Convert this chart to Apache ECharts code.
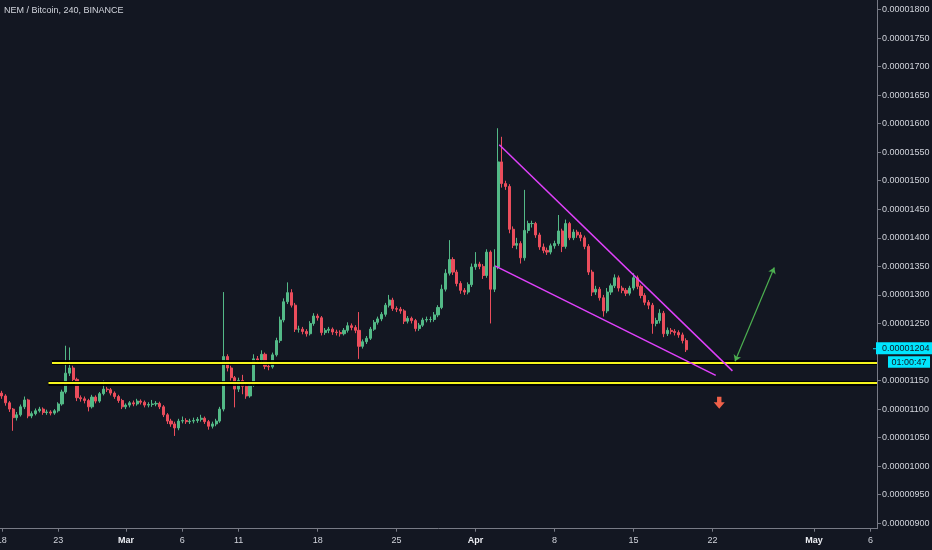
<!DOCTYPE html>
<html><head><meta charset="utf-8">
<script src="https://cdn.jsdelivr.net/npm/echarts@6/dist/echarts.min.js"></script>
<style>html,body{margin:0;padding:0;background:#131722;}#c{width:932px;height:550px;}</style>
</head><body><div id="c"></div>
<script>
// ---- data (prices in 1e-8 BTC units; x in days since Feb 18) ----
const chartTitle = 'NEM / Bitcoin, 240, BINANCE';
const firstOpen = 1128;
const candleStepDays = 1 / 3;
const closes = [
 1123,1111,1100,1085,1090,1104,1116,1088,1092,1097,1100,1094,1095,1093,1097,1109,1130,1163,1172,1152,
 1120,1118,1115,1104,1121,1114,1127,1135,1134,1128,1122,1115,1104,1107,1111,1109,1114,1112,1107,1108,
 1109,1110,1104,1090,1079,1074,1067,1079,1080,1078,1079,1080,1082,1084,1078,1070,1074,1079,1100,1192,
 1172,1155,1135,1150,1140,1123,1142,1188,1186,1196,1175,1174,1195,1220,1256,1288,1304,1282,1240,1240,
 1236,1232,1250,1263,1260,1234,1238,1240,1235,1234,1232,1238,1246,1243,1238,1210,1218,1224,1240,1252,
 1258,1266,1282,1291,1276,1275,1272,1254,1259,1255,1241,1247,1256,1257,1257,1265,1278,1310,1338,1362,
 1340,1320,1308,1305,1318,1349,1354,1350,1334,1375,1310,1349,1533,1495,1490,1415,1387,1390,1365,1413,
 1425,1425,1405,1384,1378,1375,1386,1390,1412,1385,1425,1400,1410,1405,1400,1385,1340,1305,1310,1295,
 1272,1305,1316,1330,1312,1308,1303,1312,1330,1315,1299,1287,1282,1250,1255,1268,1232,1238,1236,1234,
 1230,1220,1204
];
const highs = [
 1132,1126,1114,1102,1095,1108,1122,1118,1096,1101,1104,1103,1099,1098,1100,1112,1134,1211,1208,1176,
 1155,1124,1122,1118,1125,1124,1130,1150,1139,1137,1131,1125,1118,1110,1114,1115,1118,1117,1115,1112,
 1116,1114,1113,1107,1093,1083,1078,1083,1087,1084,1083,1085,1086,1090,1087,1081,1078,1083,1104,1305,
 1196,1176,1158,1155,1160,1144,1147,1196,1193,1203,1199,1180,1199,1225,1262,1294,1322,1310,1286,1246,
 1244,1240,1254,1268,1267,1263,1242,1244,1243,1239,1238,1242,1252,1250,1247,1270,1222,1228,1244,1256,
 1262,1270,1286,1300,1295,1280,1279,1275,1263,1262,1258,1251,1260,1262,1262,1270,1282,1318,1345,1396,
 1366,1344,1324,1312,1322,1355,1375,1358,1354,1380,1378,1380,1592,1577,1500,1494,1420,1400,1394,1484,
 1430,1430,1428,1409,1390,1383,1390,1395,1440,1416,1432,1428,1415,1414,1410,1404,1389,1344,1316,1314,
 1300,1312,1320,1336,1334,1316,1312,1316,1338,1334,1318,1303,1291,1286,1260,1275,1272,1243,1242,1240,
 1238,1234,1224
];
const lows = [
 1118,1106,1095,1062,1080,1087,1100,1084,1084,1089,1094,1090,1090,1089,1090,1094,1106,1127,1158,1148,
 1114,1113,1110,1096,1101,1110,1111,1124,1130,1124,1118,1111,1100,1100,1103,1105,1106,1108,1103,1103,
 1104,1105,1100,1086,1074,1069,1053,1063,1075,1074,1074,1075,1076,1078,1074,1064,1066,1070,1076,1096,
 1166,1150,1103,1130,1126,1118,1120,1139,1180,1182,1170,1168,1171,1192,1216,1252,1284,1278,1235,1234,
 1231,1227,1229,1246,1255,1229,1230,1233,1230,1229,1227,1229,1234,1238,1233,1188,1206,1214,1221,1237,
 1248,1254,1262,1278,1272,1270,1267,1249,1250,1250,1236,1237,1244,1252,1252,1253,1261,1275,1306,1334,
 1335,1315,1302,1300,1301,1314,1344,1345,1328,1330,1250,1305,1345,1488,1484,1408,1382,1380,1355,1360,
 1408,1418,1400,1379,1373,1370,1371,1381,1386,1375,1381,1396,1396,1400,1394,1380,1335,1298,1300,1290,
 1262,1268,1300,1312,1306,1303,1298,1299,1308,1310,1294,1282,1275,1232,1245,1250,1226,1228,1231,1229,
 1225,1215,1200
];
const priceTicks = [900,950,1000,1050,1100,1150,1200,1250,1300,1350,1400,1450,1500,1550,1600,1650,1700,1750,1800];
const dateTickDays = [0,5,11,16,21,28,35,42,49,56,63,72,77];
const dateTickLabels = ['18','23','Mar','6','11','18','25','Apr','8','15','22','May','6'];
const lastPrice = 1204;
const countdown = '01:00:47';
// annotations (data coordinates: [day, price])
const supportUpper = [[4.45, 1182], [77.585, 1182]];
const supportLower = [[4.14, 1146], [77.585, 1146]];
const wedgeUpper = [[44.1, 1563], [64.77, 1167]];
const wedgeLower = [[43.72, 1351], [63.29, 1159]];
const greenArrow = [[65.0, 1184], [68.48, 1348]];
const redArrowMark = [63.6, 1111];

// ---- chart ----
const FONT = "'Liberation Sans', Arial, sans-serif";
const FS = 9;
const AXIS = '#787b86';
const TXT = '#d1d4dc';
const fmtPrice = v => '0.0000' + String(Math.round(v)).padStart(4, '0');

const opens = [firstOpen].concat(closes.slice(0, -1));
const candleData = closes.map((c, i) => [i * candleStepDays, opens[i], c, lows[i], highs[i]]);

function seg(pts, style, syms, symSize) {
  return [
    { coord: pts[0], lineStyle: style, symbol: syms ? syms[0] : 'none', symbolSize: symSize || 0 },
    { coord: pts[1], symbol: syms ? syms[1] : 'none', symbolSize: symSize || 0 }
  ];
}
const outline = { color: '#000000', width: 5, type: 'solid', opacity: 0.9 };
const yellow = { color: '#f5f51d', width: 2.2, type: 'solid' };
const magenta = { color: '#e040fb', width: 1.5, type: 'solid' };
const green = { color: '#4caf50', width: 1.2, type: 'solid' };

const chart = echarts.init(document.getElementById('c'), null, { renderer: 'canvas' });
chart.setOption({
  backgroundColor: '#131722',
  animation: false,
  title: { text: chartTitle, left: 4, top: 6, padding: 0, textStyle: { color: TXT, fontSize: FS, fontWeight: 'normal', fontFamily: FONT } },
  grid: { left: 0, right: 55, top: 0, bottom: 21.3, containLabel: false, outerBoundsMode: 'none' },
  xAxis: {
    type: 'value', min: -0.16, max: 77.585,
    axisLine: { show: true, onZero: false, lineStyle: { color: AXIS, width: 1 } },
    axisTick: { show: true, length: 3, customValues: dateTickDays, lineStyle: { color: AXIS } },
    axisLabel: {
      customValues: dateTickDays, margin: 7, color: TXT, fontSize: FS, fontFamily: FONT,
      formatter: v => {
        const t = dateTickLabels[dateTickDays.indexOf(Math.round(v))] || '';
        return /[A-Za-z]/.test(t) ? '{m|' + t + '}' : t;
      },
      rich: { m: { fontWeight: 'bold', color: '#eceef3', fontSize: FS, fontFamily: FONT } }
    },
    splitLine: { show: false }
  },
  yAxis: {
    type: 'value', position: 'right', min: 890.5, max: 1816.6, scale: true,
    axisLine: { show: true, onZero: false, lineStyle: { color: AXIS, width: 1 } },
    axisTick: { show: true, length: 4, customValues: priceTicks, lineStyle: { color: AXIS } },
    axisLabel: { customValues: priceTicks, margin: 5, color: TXT, fontSize: FS, fontFamily: FONT, formatter: fmtPrice },
    splitLine: { show: false }
  },
  series: [
    {
      type: 'candlestick', data: candleData, encode: { x: 0, y: [1, 2, 3, 4] },
      barWidth: 2.6, clip: true, z: 2,
      itemStyle: { color: '#53b987', color0: '#eb4d5c', borderColor: '#53b987', borderColor0: '#eb4d5c', borderWidth: 1 }
    },
    {
      type: 'line', data: [], z: 5, silent: true,
      markLine: {
        silent: true, animation: false, label: { show: false }, symbol: ['none', 'none'],
        emphasis: { disabled: true },
        data: [
          seg(supportUpper, outline), seg(supportLower, outline),
          seg(supportUpper, yellow), seg(supportLower, yellow),
          seg(wedgeUpper, magenta), seg(wedgeLower, magenta),
          seg(greenArrow, green, ['arrow', 'arrow'], 6)
        ]
      },
      markPoint: {
        silent: true, animation: false,
        data: [{
          coord: redArrowMark, symbol: 'path://M3,0 L7,0 L7,5 L10,5 L5,11 L0,5 L3,5 Z',
          symbolSize: [11, 12], itemStyle: { color: '#f0614a' }, label: { show: false }
        }]
      }
    }
  ]
});

const py = chart.convertToPixel({ yAxisIndex: 0 }, lastPrice);
const axisX = chart.convertToPixel({ xAxisIndex: 0 }, 77.585);
chart.setOption({
  graphic: [
    { type: 'rect', shape: { x: axisX - 4, y: py - 1.5, width: 4, height: 1 }, style: { fill: '#00e5ff' }, z: 100 },
    { type: 'rect', shape: { x: axisX - 1, y: py - 7.5, width: 932 - axisX + 1, height: 12 }, style: { fill: '#00e5ff' }, z: 100 },
    { type: 'text', x: axisX + 5, y: py - 1.5, style: { text: fmtPrice(lastPrice), fill: '#131722', font: FS + 'px ' + FONT, verticalAlign: 'middle', align: 'left' }, z: 101 },
    { type: 'rect', shape: { x: axisX + 11, y: py + 6.5, width: 932 - axisX - 13, height: 11.5 }, style: { fill: '#00e5ff' }, z: 100 },
    { type: 'text', x: (axisX + 11 + 930) / 2, y: py + 12.3, style: { text: countdown, fill: '#131722', font: FS + 'px ' + FONT, verticalAlign: 'middle', align: 'center' }, z: 101 }
  ]
});
</script>
</body></html>
